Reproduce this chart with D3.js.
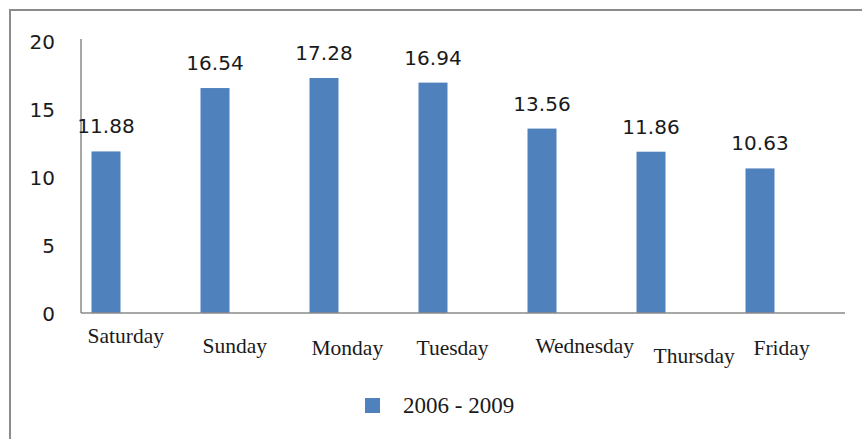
<!DOCTYPE html>
<html>
<head>
<meta charset="utf-8">
<script src="https://cdn.jsdelivr.net/npm/d3@7"></script>
<style>
  html, body { margin: 0; padding: 0; background: #fff; }
  svg { display: block; }
</style>
</head>
<body>
<svg id="chart" width="862" height="439"></svg>
<script>
// Average per weekday, 2006 - 2009
const categories = ["Saturday", "Sunday", "Monday", "Tuesday", "Wednesday", "Thursday", "Friday"];
const values = [11.88, 16.54, 17.28, 16.94, 13.56, 11.86, 10.63];
const yTicks = [0, 5, 10, 15, 20];
const seriesName = "2006 - 2009";

// Hand-placed nudges for the category labels [dx from bar left, dy from label row]
const categoryLabelNudge = [[-4, -10], [2, 0], [2, 2], [-2, 2], [8, 0], [17, 10], [8, 2]];

const BAR = "#4F81BD";
const GRID = "#8a8a8a";

const svg = d3.select("#chart");

// outer frame (runs off the right and bottom edges)
svg.append("rect")
  .attr("x", 10).attr("y", 10)
  .attr("width", 900).attr("height", 500)
  .attr("fill", "#fff")
  .attr("stroke", "#8c8c8c")
  .attr("stroke-width", 2);

const plotLeft = 81, plotRight = 845;

const y = d3.scaleLinear().domain([0, 20]).range([313, 41]);

const x = d3.scaleBand()
  .domain(categories)
  .range([51.5, 814.5])
  .paddingInner(0.734)
  .paddingOuter(0.367);

// y tick labels
const yAxis = svg.append("g")
  .attr("transform", `translate(${plotLeft},1)`)
  .call(d3.axisLeft(y).tickValues(yTicks).tickSize(0).tickPadding(26));
yAxis.select(".domain").remove();
yAxis.selectAll("text")
  .attr("font-family", "DejaVu Sans")
  .attr("font-size", 20)
  .attr("fill", "#1a1a1a");

// axis lines
svg.append("line")
  .attr("x1", plotLeft).attr("x2", plotLeft)
  .attr("y1", y(20) - 2).attr("y2", y(0))
  .attr("stroke", GRID).attr("stroke-width", 1.5);

// bars
svg.append("g").selectAll("rect")
  .data(values)
  .join("rect")
  .attr("x", (d, i) => x(categories[i]))
  .attr("y", d => y(d))
  .attr("width", x.bandwidth())
  .attr("height", d => y(0) - y(d))
  .attr("fill", BAR);

svg.append("line")
  .attr("x1", plotLeft).attr("x2", plotRight)
  .attr("y1", y(0)).attr("y2", y(0))
  .attr("stroke", GRID).attr("stroke-width", 1.5);

// value labels above bars
svg.append("g").selectAll("text")
  .data(values)
  .join("text")
  .attr("x", (d, i) => x(categories[i]) + x.bandwidth() / 2)
  .attr("y", d => y(d) - 18)
  .attr("text-anchor", "middle")
  .attr("font-family", "DejaVu Sans")
  .attr("font-size", 20)
  .attr("fill", "#1a1a1a")
  .text(d => d.toFixed(2));

// category labels
svg.append("g").selectAll("text")
  .data(categories)
  .join("text")
  .attr("x", (d, i) => x(d) + categoryLabelNudge[i][0])
  .attr("y", (d, i) => 353 + categoryLabelNudge[i][1])
  .attr("text-anchor", "start")
  .attr("font-family", "Liberation Serif")
  .attr("font-size", 21.5)
  .attr("fill", "#1a1a1a")
  .text(d => d);

// legend
const legend = svg.append("g").attr("transform", "translate(365,398)");
legend.append("rect")
  .attr("width", 15).attr("height", 15)
  .attr("fill", BAR);
legend.append("text")
  .attr("x", 38).attr("y", 15)
  .attr("font-family", "Liberation Serif")
  .attr("font-size", 23)
  .attr("fill", "#1a1a1a")
  .text(seriesName);
</script>
</body>
</html>
